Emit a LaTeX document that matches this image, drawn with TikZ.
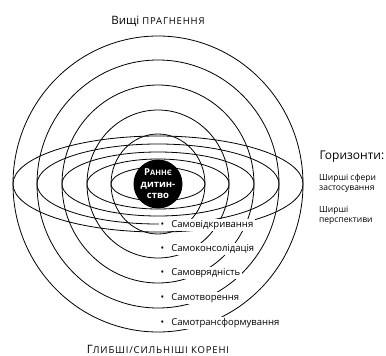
\documentclass[tikz,border=0pt]{standalone}
\usepackage{fontspec}
\setmainfont{Open Sans}
\usepackage{tikz}
\usetikzlibrary{positioning}
\newcommand{\capsish}[1]{{\fontsize{9.5}{10}\selectfont\addfontfeature{LetterSpace=9}#1}}
\tikzset{
  ring/.style={draw=black, line width=0.8pt},
  orbit/.style={draw=black, line width=0.8pt},
  corenode/.style={circle, fill=black, text=white, minimum size=49pt,
    inner sep=0pt, align=center, font=\fontsize{9.5}{11.5}\selectfont\bfseries},
  stagelabel/.style={fill=white, inner sep=1.5pt, anchor=west,
    font=\fontsize{9.5}{10}\selectfont},
  sidetext/.style={align=left, inner sep=0pt, font=\fontsize{8.5}{10}\selectfont},
  titletext/.style={font=\fontsize{11.5}{12}\selectfont}
}

\begin{document}
\begin{tikzpicture}[x=1pt, y=-1pt]
  \useasboundingbox (0,0) rectangle (386,356);
  \coordinate (c) at (158,184);

  % concentric rings
  \foreach \rx/\ry in {145/148, 121/124, 96/99, 71/74, 47/50}
    \draw[ring] (c) ellipse [x radius=\rx, y radius=\ry];

  % flattened orbits
  \foreach \a/\b in {145/48, 121/40, 96/32, 71/25, 47/17}
    \draw[orbit] (c) ellipse [x radius=\a, y radius=\b];

  \node[corenode] (core) at (c) {Р{\fontsize{7.5}{8}\selectfont АННЄ}\\дитин-\\ство};

  \node[titletext] (aims) at (158,21) {Вищі \capsish{ПРАГНЕННЯ}};
  \node[titletext] (roots) at (158,349) {Г\capsish{ЛИБШІ/СИЛЬНІШІ КОРЕНІ}};

  \node[stagelabel] (s1) at (159,225) {•\hspace{7pt}Самовідкривання};
  \node[stagelabel] (s2) at (159,249) {•\hspace{7pt}Самоконсолідація};
  \node[stagelabel] (s3) at (159,273) {•\hspace{7pt}Самоврядність};
  \node[stagelabel] (s4) at (159,298) {•\hspace{7pt}Самотворення};
  \node[stagelabel] (s5) at (159,323) {•\hspace{7pt}Самотрансформування};

  \node[font=\fontsize{12}{14}\selectfont, anchor=west] (horiz) at (316,157) {Горизонти:};
  \node[sidetext, below=17pt of horiz.west, anchor=north west, xshift=3pt] (spheres) {Ширші сфери\\застосування};
  \node[sidetext, below=13pt of spheres.south west, anchor=north west] (views) {Ширші\\перспективи};
\end{tikzpicture}
\end{document}
